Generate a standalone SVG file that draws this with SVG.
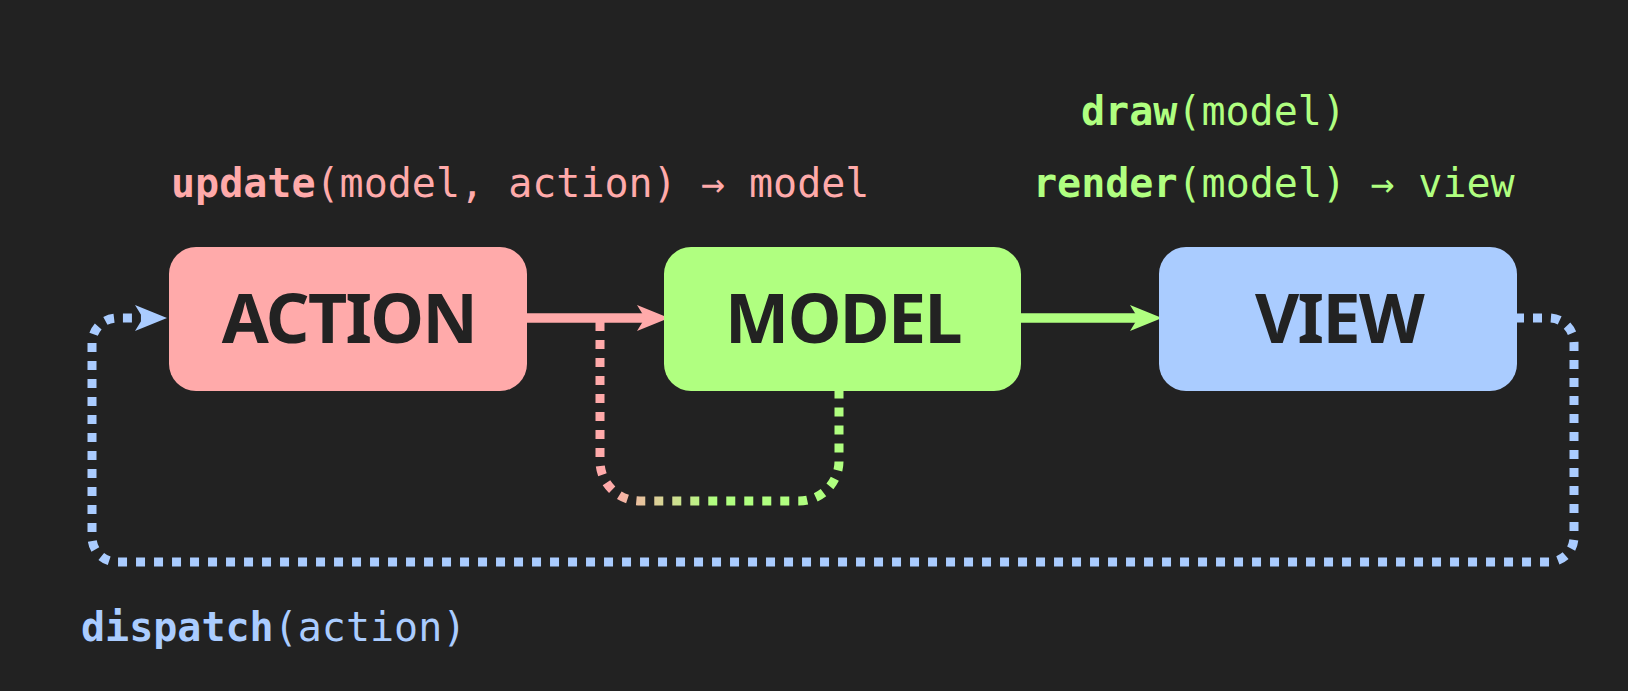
<svg xmlns="http://www.w3.org/2000/svg" width="1628" height="691" viewBox="0 0 1628 691">
  <style>
    .box { stroke: none; }
    .lbl { font-family: "Noto Sans", "Open Sans", sans-serif; font-weight: 700; font-size: 68px; letter-spacing: -1.6px; fill: #222222; text-anchor: middle; }
    .code { font-family: "DejaVu Sans Mono", "Liberation Mono", monospace; font-size: 40px; }
    .code .fn { font-weight: 700; }
    .solid { fill: none; stroke-width: 9.5; }
    .dot { fill: none; stroke-width: 9; stroke-dasharray: 9 9; stroke-linecap: butt; }
    .red { stroke: #ffaaaa; }
    .green { stroke: #b0ff80; }
    .blue { stroke: #aaccff; }
  </style>
  <defs>
    <linearGradient id="rg" gradientUnits="userSpaceOnUse" x1="610" y1="0" x2="715" y2="0">
      <stop offset="0" stop-color="#ffaaaa"/>
      <stop offset="1" stop-color="#b0ff80"/>
    </linearGradient>
    <marker id="ah-red" viewBox="0 0 32 26" markerUnits="userSpaceOnUse" markerWidth="32" markerHeight="26" refX="13" refY="13" orient="auto">
      <path d="M0,0 L32,13 L0,26 L8,13 Z" fill="#ffaaaa"/>
    </marker>
    <marker id="ah-green" viewBox="0 0 32 26" markerUnits="userSpaceOnUse" markerWidth="32" markerHeight="26" refX="13" refY="13" orient="auto">
      <path d="M0,0 L32,13 L0,26 L8,13 Z" fill="#b0ff80"/>
    </marker>
    <marker id="ah-blue" viewBox="0 0 32 26" markerUnits="userSpaceOnUse" markerWidth="32" markerHeight="26" refX="10" refY="13" orient="auto">
      <path d="M0,0 L32,13 L0,26 L8,13 Z" fill="#aaccff"/>
    </marker>
  </defs>
  <rect width="1628" height="691" fill="#222222"/>

  <g id="connectors">
    <path class="dot" stroke="url(#rg)" d="M600,322 V461 A40,40 0 0 0 640,501 H799 A40,40 0 0 0 839,461 V386"/>
    <path class="dot blue" d="M1515,318 H1549 A25,25 0 0 1 1574,343 V537 A25,25 0 0 1 1549,562 H117 A25,25 0 0 1 92,537 V343 A25,25 0 0 1 117,318 H145" marker-end="url(#ah-blue)"/>
    <path class="solid red" d="M527,318 H650" marker-end="url(#ah-red)"/>
    <path class="solid green" d="M1021,318 H1143" marker-end="url(#ah-green)"/>
  </g>

  <g id="action">
    <rect class="box" x="169" y="247" width="358" height="144" rx="27" fill="#ffaaaa"/>
    <text class="lbl" x="349" y="343">ACTION</text>
  </g>
  <g id="model">
    <rect class="box" x="664" y="247" width="357" height="144" rx="27" fill="#b0ff80"/>
    <text class="lbl" x="843" y="343">MODEL</text>
  </g>
  <g id="view">
    <rect class="box" x="1159" y="247" width="358" height="144" rx="27" fill="#aaccff"/>
    <text class="lbl" x="1339" y="343">VIEW</text>
  </g>

  <g id="labels" class="code">
    <text x="171" y="197" fill="#ffaaaa"><tspan class="fn">update</tspan>(model, action) → model</text>
    <text x="1081" y="125" fill="#b0ff80"><tspan class="fn">draw</tspan>(model)</text>
    <text x="1033" y="197" fill="#b0ff80"><tspan class="fn">render</tspan>(model) → view</text>
    <text x="81" y="641" fill="#aaccff"><tspan class="fn">dispatch</tspan>(action)</text>
  </g>
</svg>
